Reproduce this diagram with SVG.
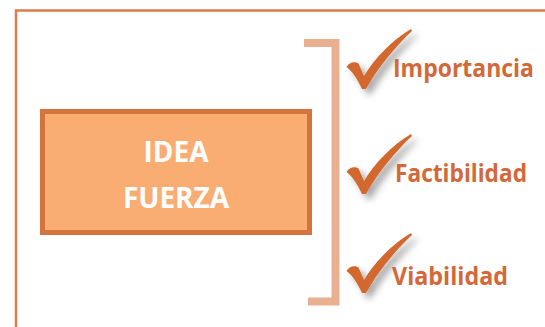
<svg xmlns="http://www.w3.org/2000/svg" width="545" height="327" viewBox="0 0 545 327">
<style>
.frame{fill:none;stroke:#DC7D49;stroke-width:2.5}
.box{fill:#F9AD73;stroke:#D5733C;stroke-width:5}
.title{font-family:"Open Sans",sans-serif;font-weight:bold;font-size:28px;fill:#FFFFFF;text-anchor:middle}
.label{font-family:"Open Sans",sans-serif;font-weight:bold;font-size:25px;fill:#D2693A}
.bracket{fill:none;stroke:#E8B08E;stroke-width:8;stroke-linejoin:miter}
.check{fill:#D2672F;filter:url(#sh)}
</style>
<defs>
<filter id="sh" x="-30%" y="-30%" width="180%" height="180%">
<feDropShadow dx="5" dy="5" stdDeviation="3.5" flood-color="#000" flood-opacity="0.35"/>
</filter>
<path id="chk" d="M346.5,67 C349,62 355,61 358.5,63.5 L364,76 C375,58 392,40 411,29 L412,31 C396,46 379,66 366,89 L362,89 C358,80 353,72 346.5,67 Z"/>
</defs>
<path class="frame" d="M16,327 V10.5 H545"/>
<g id="idea-fuerza">
<rect class="box" x="42.5" y="111.5" width="267" height="121"/>
<text class="title" x="176" y="162">IDEA</text>
<text class="title" x="176" y="208">FUERZA</text>
</g>
<g id="connectors">
<path class="bracket" d="M304,43 H335.5 V301.5 H308"/>
</g>
<g id="importancia">
<use href="#chk" class="check"/>
<text class="label" x="393" y="77" textLength="141" lengthAdjust="spacingAndGlyphs">Importancia</text>
</g>
<g id="factibilidad">
<use href="#chk" class="check" transform="translate(0,105)"/>
<text class="label" x="395" y="182" textLength="132" lengthAdjust="spacingAndGlyphs">Factibilidad</text>
</g>
<g id="viabilidad">
<use href="#chk" class="check" transform="translate(0,204)"/>
<text class="label" x="392" y="285" textLength="116" lengthAdjust="spacingAndGlyphs">Viabilidad</text>
</g>
</svg>
